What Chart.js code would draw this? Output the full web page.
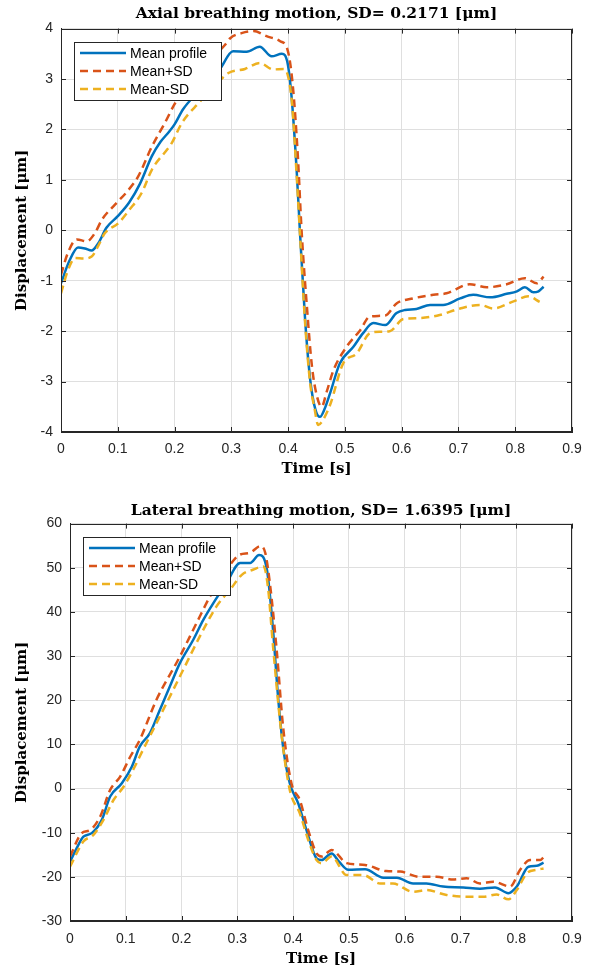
<!DOCTYPE html>
<html>
<head>
<meta charset="utf-8">
<script src="https://cdn.jsdelivr.net/npm/chart.js@4.4.0/dist/chart.umd.min.js"></script>
<style>
    html, body { margin: 0; padding: 0; background: #fff; }
    .panel { position: absolute; left: 0; width: 601px; }
    #axial-panel   { top: 0;     height: 484px; }
    #lateral-panel { top: 484px; height: 485px; }
</style>
</head>
<body>
<div class="panel" id="axial-panel"><canvas id="axialChart"></canvas></div>
<div class="panel" id="lateral-panel"><canvas id="lateralChart"></canvas></div>
<script>
// ─── Data ──────────────────────────────────

const seriesLabels = ['Mean profile', 'Mean+SD', 'Mean-SD'];
const xTicks       = [0, 0.1, 0.2, 0.3, 0.4, 0.5, 0.6, 0.7, 0.8, 0.9];
const axialYTicks   = [-4, -3, -2, -1, 0, 1, 2, 3, 4];
const lateralYTicks = [-30, -20, -10, 0, 10, 20, 30, 40, 50, 60];

// Axial
const axialMeanT = [0, 0.015, 0.03, 0.042, 0.054, 0.066, 0.08, 0.1, 0.12, 0.139, 0.16, 0.175, 0.19, 0.2, 0.215, 0.236, 0.26, 0.28, 0.303, 0.327, 0.35, 0.371, 0.389, 0.399, 0.406, 0.415, 0.421, 0.43, 0.439, 0.448, 0.456, 0.464, 0.474, 0.491, 0.515, 0.532, 0.55, 0.571, 0.591, 0.606, 0.626, 0.65, 0.673, 0.703, 0.726, 0.756, 0.785, 0.803, 0.817, 0.832, 0.841, 0.85];
const axialMeanY = [-1.05, -0.6, -0.34, -0.36, -0.4, -0.25, 0.05, 0.28, 0.55, 0.92, 1.47, 1.75, 1.95, 2.1, 2.4, 2.68, 2.95, 3.2, 3.55, 3.54, 3.64, 3.45, 3.5, 3.32, 2.66, 1.2, -0.06, -1.78, -2.97, -3.55, -3.7, -3.55, -3.23, -2.64, -2.31, -2.04, -1.84, -1.88, -1.64, -1.58, -1.56, -1.48, -1.48, -1.35, -1.28, -1.33, -1.26, -1.21, -1.13, -1.23, -1.21, -1.12];

const axialPlusT = [0, 0.012, 0.028, 0.045, 0.06, 0.072, 0.095, 0.115, 0.136, 0.16, 0.183, 0.201, 0.225, 0.25, 0.27, 0.289, 0.298, 0.318, 0.339, 0.362, 0.386, 0.399, 0.408, 0.417, 0.424, 0.433, 0.442, 0.451, 0.459, 0.468, 0.48, 0.503, 0.527, 0.544, 0.571, 0.591, 0.62, 0.656, 0.679, 0.72, 0.75, 0.785, 0.817, 0.838, 0.85];
const axialPlusY = [-0.88, -0.45, -0.18, -0.22, -0.05, 0.21, 0.51, 0.75, 1.07, 1.66, 2.13, 2.52, 2.9, 3.2, 3.45, 3.68, 3.81, 3.91, 3.95, 3.85, 3.75, 3.58, 2.9, 1.5, -0.06, -1.5, -2.7, -3.3, -3.5, -3.2, -2.77, -2.31, -1.98, -1.71, -1.69, -1.45, -1.35, -1.28, -1.25, -1.07, -1.13, -1.07, -0.95, -1.05, -0.92];

const axialMinusT = [0, 0.012, 0.025, 0.04, 0.054, 0.066, 0.077, 0.101, 0.12, 0.142, 0.16, 0.195, 0.213, 0.242, 0.27, 0.295, 0.324, 0.35, 0.374, 0.392, 0.4, 0.407, 0.415, 0.421, 0.43, 0.439, 0.446, 0.453, 0.462, 0.474, 0.497, 0.521, 0.544, 0.562, 0.579, 0.603, 0.632, 0.667, 0.703, 0.738, 0.761, 0.797, 0.823, 0.843];
const axialMinusY = [-1.25, -0.8, -0.55, -0.56, -0.52, -0.3, -0.06, 0.14, 0.4, 0.74, 1.2, 1.73, 2.13, 2.52, 2.85, 3.12, 3.2, 3.32, 3.19, 3.2, 3.05, 2.5, 1.1, -0.1, -1.85, -3.05, -3.5, -3.86, -3.75, -3.46, -2.64, -2.44, -2.04, -2.01, -2.0, -1.76, -1.74, -1.68, -1.55, -1.48, -1.55, -1.41, -1.31, -1.42];

// Lateral
const lateralMeanT = [0, 0.012, 0.024, 0.039, 0.057, 0.072, 0.093, 0.111, 0.125, 0.143, 0.161, 0.179, 0.197, 0.221, 0.239, 0.257, 0.281, 0.305, 0.323, 0.339, 0.353, 0.364, 0.373, 0.382, 0.394, 0.409, 0.424, 0.442, 0.451, 0.469, 0.482, 0.499, 0.529, 0.562, 0.586, 0.615, 0.639, 0.669, 0.705, 0.735, 0.762, 0.786, 0.801, 0.822, 0.837, 0.849];
const lateralMeanY = [-16.6, -13.5, -10.9, -10.1, -7.1, -1.8, 1.2, 5.0, 9.5, 12.5, 17.8, 23.1, 28.4, 33.7, 38.2, 42.0, 46.6, 51.1, 51.1, 52.9, 49.6, 36.0, 20.8, 9.5, 1.2, -3.3, -9.4, -15.8, -16.2, -14.7, -16.5, -18.4, -18.3, -20.2, -20.2, -21.5, -21.5, -22.2, -22.4, -22.7, -22.4, -23.7, -22.2, -17.7, -17.5, -16.8];

const lateralPlusT = [0, 0.021, 0.036, 0.054, 0.072, 0.09, 0.108, 0.125, 0.155, 0.197, 0.227, 0.251, 0.27, 0.287, 0.305, 0.323, 0.341, 0.35, 0.359, 0.371, 0.382, 0.397, 0.412, 0.427, 0.442, 0.451, 0.469, 0.496, 0.529, 0.567, 0.592, 0.627, 0.657, 0.687, 0.711, 0.735, 0.759, 0.789, 0.807, 0.825, 0.843, 0.85];
const lateralPlusY = [-15.4, -10.1, -9.4, -6.4, -0.3, 2.7, 7.2, 11.0, 20.1, 29.9, 37.5, 43.5, 47.5, 50.7, 53.0, 53.4, 54.9, 53.4, 45.8, 30.7, 14.0, 1.2, -2.6, -9.4, -14.7, -15.4, -13.9, -16.9, -17.3, -18.7, -18.8, -20.0, -20.0, -20.6, -20.3, -21.5, -21.1, -22.2, -18.4, -16.2, -16.2, -15.4];

const lateralMinusT = [0, 0.024, 0.042, 0.06, 0.078, 0.096, 0.113, 0.131, 0.161, 0.203, 0.233, 0.263, 0.287, 0.308, 0.329, 0.347, 0.355, 0.364, 0.379, 0.394, 0.412, 0.427, 0.442, 0.451, 0.469, 0.496, 0.526, 0.556, 0.579, 0.615, 0.639, 0.675, 0.711, 0.741, 0.765, 0.786, 0.801, 0.819, 0.837, 0.849];
const lateralMinusY = [-17.7, -12.0, -10.5, -7.1, -2.6, 0.4, 4.2, 8.8, 16.3, 26.9, 34.5, 41.3, 45.0, 48.4, 49.6, 50.3, 45.5, 32.2, 12.5, -0.3, -5.6, -11.6, -16.2, -16.9, -15.4, -19.6, -19.6, -21.5, -21.5, -23.4, -23.0, -24.1, -24.5, -24.5, -24.0, -25.1, -23.0, -19.2, -18.4, -18.1];

// ─── Style ─────────────────────────────────

const colors  = ['#0072BD', '#D95319', '#EDB120'];
const axisInk = '#262626';
const gridInk = '#dfdfdf';
const tickFont  = { family: 'Liberation Sans', size: 14 };
const labelFont = { family: 'DejaVu Serif', size: 15, weight: 'bold' };
const titleFont = { family: 'DejaVu Serif', size: 15.5, weight: 'bold' };

const toPoints = (ts, ys) => ts.map((t, i) => ({ x: t, y: ys[i] }));

// Box, inward ticks and an inside legend, MATLAB style
const matlabAxes = {
    id: 'matlabAxes',
    afterDraw(chart) {
        const { ctx, chartArea: a, scales: { x, y } } = chart;
        const tl = 5;
        ctx.save();
        ctx.strokeStyle = axisInk;
        ctx.lineWidth = 1;
        ctx.setLineDash([]);
        ctx.beginPath();
        x.ticks.forEach(t => {
            const px = Math.round(x.getPixelForValue(t.value)) + 0.5;
            ctx.moveTo(px, a.bottom); ctx.lineTo(px, a.bottom - tl);
            ctx.moveTo(px, a.top);    ctx.lineTo(px, a.top + tl);
        });
        y.ticks.forEach(t => {
            const py = Math.round(y.getPixelForValue(t.value)) + 0.5;
            ctx.moveTo(a.left, py);  ctx.lineTo(a.left + tl, py);
            ctx.moveTo(a.right, py); ctx.lineTo(a.right - tl, py);
        });
        ctx.stroke();
        ctx.strokeRect(Math.round(a.left) + 0.5, Math.round(a.top) + 0.5,
                       Math.round(a.width) - 1, Math.round(a.height) - 1);

        // legend
        const bx = Math.round(a.left) + 13, by = Math.round(a.top) + 13;
        const bw = 147, bh = 58;
        ctx.fillStyle = '#fff';
        ctx.fillRect(bx, by, bw, bh);
        ctx.strokeRect(bx + 0.5, by + 0.5, bw, bh);
        ctx.font = `${tickFont.size}px ${tickFont.family}`;
        ctx.textBaseline = 'middle';
        chart.data.datasets.forEach((ds, i) => {
            const ry = by + 11 + i * 18;
            ctx.strokeStyle = ds.borderColor;
            ctx.lineWidth = ds.borderWidth;
            ctx.setLineDash(ds.borderDash || []);
            ctx.beginPath();
            ctx.moveTo(bx + 6, ry); ctx.lineTo(bx + 52, ry);
            ctx.stroke();
            ctx.fillStyle = '#000';
            ctx.fillText(ds.label, bx + 56, ry + 1);
        });
        ctx.restore();
    }
};

function makeChart(canvasId, cfg) {
    const datasets = cfg.series.map((pts, i) => ({
        label: seriesLabels[i],
        data: pts,
        borderColor: colors[i],
        borderWidth: 2.5,
        borderDash: i === 0 ? [] : [8, 5],
        pointRadius: 0,
        cubicInterpolationMode: 'monotone',
        order: 2 - i
    }));

    return new Chart(document.getElementById(canvasId), {
        type: 'line',
        data: { datasets },
        plugins: [matlabAxes],
        options: {
            responsive: true,
            maintainAspectRatio: false,
            animation: false,
            events: [],
            layout: { padding: { left: 0, right: 29, top: 0, bottom: 0 } },
            plugins: {
                legend: { display: false },
                tooltip: { enabled: false },
                title: {
                    display: true,
                    text: cfg.title,
                    fullSize: false,
                    color: '#000',
                    font: titleFont,
                    padding: cfg.titlePad
                }
            },
            scales: {
                x: {
                    type: 'linear',
                    min: 0, max: 0.9,
                    afterBuildTicks: s => { s.ticks = xTicks.map(v => ({ value: v })); },
                    afterFit: s => { s.height = cfg.xHeight; },
                    ticks: { callback: v => String(v), font: tickFont, color: axisInk, padding: cfg.xTickPad, maxRotation: 0, autoSkip: false },
                    grid: { color: gridInk, drawTicks: false },
                    border: { color: axisInk },
                    title: { display: true, text: 'Time [s]', color: '#000', font: labelFont, padding: { top: 0, bottom: cfg.xTitlePad } }
                },
                y: {
                    min: cfg.yTicks[0], max: cfg.yTicks[cfg.yTicks.length - 1],
                    afterBuildTicks: s => { s.ticks = cfg.yTicks.map(v => ({ value: v })); },
                    afterFit: s => { s.width = cfg.yWidth; },
                    ticks: { callback: v => String(v), font: tickFont, color: axisInk, padding: 8, autoSkip: false },
                    grid: { color: gridInk, drawTicks: false },
                    border: { color: axisInk },
                    title: { display: true, text: 'Displacement [μm]', color: '#000', font: labelFont, padding: { top: 13, bottom: 0 } }
                }
            }
        }
    });
}

// ─── Charts ────────────────────────────────

makeChart('axialChart', {
    title: 'Axial breathing motion, SD= 0.2171 [μm]',
    titlePad: { top: 5, bottom: 5 },
    series: [
        toPoints(axialMeanT, axialMeanY),
        toPoints(axialPlusT, axialPlusY),
        toPoints(axialMinusT, axialMinusY)
    ],
    yTicks: axialYTicks,
    yWidth: 61,
    xHeight: 52,
    xTickPad: 9,
    xTitlePad: 6
});

makeChart('lateralChart', {
    title: 'Lateral breathing motion, SD= 1.6395 [μm]',
    titlePad: { top: 18, bottom: 3 },
    series: [
        toPoints(lateralMeanT, lateralMeanY),
        toPoints(lateralPlusT, lateralPlusY),
        toPoints(lateralMinusT, lateralMinusY)
    ],
    yTicks: lateralYTicks,
    yWidth: 70,
    xHeight: 48,
    xTickPad: 10,
    xTitlePad: 1
});
</script>
</body>
</html>
